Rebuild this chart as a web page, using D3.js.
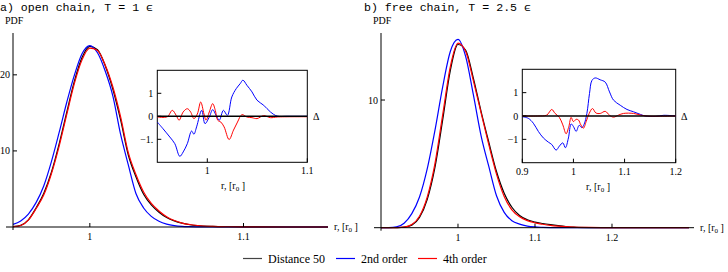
<!DOCTYPE html>
<html lang="en">
<head>
<meta charset="UTF-8">
<title>PDF comparison</title>
<script src="https://d3js.org/d3.v7.min.js"></script>
<style>
  body { margin: 0; background: #fff; }
  svg text { font-family: "Liberation Serif", "DejaVu Serif", serif; }
  .title { font-family: "Liberation Mono", "DejaVu Sans Mono", monospace !important; }
</style>
</head>
<body>
<svg width="728" height="272"></svg>
<script>
// ---- panel a) open chain, T = 1 eps ----
const aR = [0.95, 0.955, 0.96, 0.965, 0.97, 0.975, 0.98, 0.985, 0.99, 0.995, 1.0, 1.005, 1.01, 1.015, 1.02, 1.025, 1.03, 1.035, 1.04, 1.045, 1.05, 1.055, 1.06, 1.065, 1.07, 1.08, 1.09, 1.1, 1.155]
const aBlack = [0.05, 0.22, 0.95, 2.5, 4.4, 7.2, 10.9, 15.1, 19.2, 22.3, 23.75, 23.3, 21.2, 18.1, 14.1, 9.5, 6.6, 4.3, 2.9, 1.95, 1.25, 0.8, 0.5, 0.3, 0.18, 0.07, 0.03, 0.01, 0]
const aBlue = [0.35, 0.8, 1.7, 3.2, 5.4, 8.6, 12.4, 16.4, 20.0, 22.8, 23.85, 22.9, 20.5, 17.2, 12.2, 8.2, 4.4, 2.5, 1.4, 0.75, 0.38, 0.18, 0.08, 0.04, 0.02, 0, 0, 0, 0]
const aRed = [0.05, 0.2, 0.9, 2.4, 4.2, 7.0, 10.6, 14.8, 18.9, 22.0, 23.5, 23.2, 21.3, 18.4, 14.5, 9.8, 6.9, 4.6, 3.1, 2.1, 1.35, 0.85, 0.52, 0.33, 0.2, 0.08, 0.03, 0.01, 0]

// inset a): difference to Distance 50
const aDBlueR = [0.95, 0.9557, 0.9625, 0.9675, 0.9725, 0.9759, 0.98, 0.9843, 0.9866, 0.9893, 0.9944, 0.9977, 1.002, 1.0054, 1.0088, 1.012, 1.0161, 1.0201, 1.0245, 1.0289, 1.0329, 1.0356, 1.0396, 1.0447, 1.0497, 1.0564, 1.0631, 1.0698, 1.08, 1.1]
const aDBlue = [-0.25, -0.54, -0.9, -1.19, -1.74, -1.55, -1.19, -0.64, -0.78, -0.46, 0.26, -0.32, -0.03, 0.29, 0.04, -0.17, 0.26, 0.04, 0.84, 1.2, 1.42, 1.57, 1.35, 1.06, 0.7, 0.48, 0.19, 0.01, 0, 0]
const aDRedR = [0.95, 0.96, 0.965, 0.969, 0.9718, 0.9759, 0.98, 0.9833, 0.9866, 0.99, 0.9934, 0.9967, 0.9987, 1.002, 1.0054, 1.008, 1.0104, 1.0135, 1.0168, 1.0218, 1.0262, 1.0302, 1.0346, 1.0396, 1.0447, 1.0497, 1.0564, 1.0631, 1.07, 1.1]
const aDRed = [-0.03, -0.02, 0.26, 0.03, -0.17, 0.19, 0.33, 0.19, -0.1, 0.1, 0.62, 0.1, -0.17, 0.19, 0.55, 0.26, -0.17, -0.25, -0.46, -1.01, -0.6, -0.25, 0.07, -0.03, -0.06, -0.1, 0.03, -0.06, -0.03, -0.02]

// ---- panel b) free chain, T = 2.5 eps ----
const bR = [0.9, 0.91, 0.92, 0.93, 0.94, 0.95, 0.96, 0.97, 0.98, 0.99, 1.0, 1.01, 1.02, 1.03, 1.04, 1.05, 1.06, 1.07, 1.08, 1.09, 1.1, 1.11, 1.12, 1.13, 1.14, 1.15, 1.17, 1.2, 1.3]
const bBlack = [0, 0, 0.01, 0.04, 0.2, 0.8, 2.2, 4.7, 8.4, 12.3, 14.35, 13.9, 11.7, 9.1, 6.7, 4.4, 2.7, 1.6, 0.95, 0.62, 0.44, 0.33, 0.24, 0.16, 0.09, 0.04, 0.01, 0, 0]
const bBlue = [0, 0.01, 0.06, 0.35, 1.1, 2.4, 4.6, 7.6, 11.0, 13.8, 14.75, 13.4, 10.4, 7.2, 4.8, 2.5, 1.2, 0.55, 0.28, 0.13, 0.06, 0.03, 0.01, 0, 0, 0, 0, 0, 0]
const bRed = [0, 0, 0.01, 0.05, 0.25, 0.9, 2.4, 5.0, 8.8, 12.6, 14.45, 13.8, 11.5, 9.0, 6.5, 4.2, 2.45, 1.4, 0.85, 0.55, 0.38, 0.27, 0.18, 0.12, 0.08, 0.05, 0.02, 0, 0]

// inset b)
const bDBlueR = [0.9, 0.9118, 0.9216, 0.9314, 0.9412, 0.951, 0.9576, 0.9661, 0.9725, 0.9792, 0.9843, 0.9902, 0.9955, 1.0, 1.0053, 1.0112, 1.0165, 1.021, 1.0263, 1.0314, 1.0361, 1.0425, 1.0524, 1.0622, 1.0706, 1.0784, 1.0916, 1.1047, 1.1176, 1.1308, 1.1406, 1.16, 1.1765, 1.2]
const bDBlue = [-0.03, -0.1, -0.31, -0.66, -0.94, -1.12, -1.22, -1.46, -1.29, -1.15, -1.36, -0.94, -0.34, -0.45, -0.66, -0.4, -0.5, -0.35, 0.11, 0.96, 1.52, 1.63, 1.55, 1.45, 1.03, 0.68, 0.46, 0.28, 0.18, 0.07, 0, -0.02, 0.03, 0]
const bDRedR = [0.9, 0.93, 0.9478, 0.9576, 0.9641, 0.9725, 0.9792, 0.9857, 0.991, 0.9955, 1.0, 1.0053, 1.0098, 1.0145, 1.0196, 1.0249, 1.0308, 1.0373, 1.0439, 1.0524, 1.0622, 1.0706, 1.0784, 1.0882, 1.098, 1.1176, 1.1308, 1.1438, 1.17, 1.2]
const bDRed = [0, 0, 0.04, 0.28, 0.11, -0.06, -0.38, -0.76, -0.45, -0.06, -0.24, -0.14, -0.17, -0.38, -0.52, -0.24, 0.11, 0.32, 0.13, 0.11, 0.2, 0.03, -0.05, 0.04, 0.11, 0.11, 0.04, 0, -0.01, 0]

const legendNames = ['Distance 50', '2nd order', '4th order']
const colors = ['#000000', '#0000ff', '#ff0000']

const svg = d3.select('svg')

function zip(xs, ys) { return xs.map((x, i) => [x, ys[i]]) }

function drawMain(p) {
  const g = svg.append('g')
  const x = d3.scaleLinear().domain(p.xDomain).range(p.xRange)
  const y = d3.scaleLinear().domain(p.yDomain).range(p.yRange)
  const line = d3.line().x(d => x(d[0])).y(d => y(d[1])).curve(d3.curveMonotoneX)

  // title and PDF label
  svg.append('text').attr('class', 'title').attr('x', p.titleX).attr('y', 11)
    .attr('font-size', 11.6).text(p.title)
  g.append('text').attr('x', p.xRange[0] - 8).attr('y', 24).attr('font-size', 10).text('PDF')

  // curves
  p.series.forEach((s, i) => {
    g.append('path').datum(zip(p.r, s)).attr('d', line)
      .attr('fill', 'none').attr('stroke', colors[i]).attr('stroke-width', 1.2)
  })

  // axes
  g.append('line').attr('x1', p.xRange[0] - 7).attr('x2', p.xRange[1])
    .attr('y1', y(0)).attr('y2', y(0)).attr('stroke', '#000').attr('stroke-width', 1)
  g.append('line').attr('x1', p.xRange[0]).attr('x2', p.xRange[0])
    .attr('y1', p.yRange[1]).attr('y2', y(0) + 3).attr('stroke', '#000').attr('stroke-width', 1)

  p.xTicks.forEach(t => {
    g.append('line').attr('x1', x(t)).attr('x2', x(t)).attr('y1', y(0)).attr('y2', y(0) - 4)
      .attr('stroke', '#000')
    g.append('text').attr('x', x(t)).attr('y', y(0) + 13).attr('text-anchor', 'middle')
      .attr('font-size', 10).text(t === 1 ? '1' : String(t))
  })
  p.yTicks.forEach(t => {
    g.append('line').attr('x1', p.xRange[0]).attr('x2', p.xRange[0] + 4).attr('y1', y(t)).attr('y2', y(t))
      .attr('stroke', '#000')
    g.append('text').attr('x', p.xRange[0] - 3).attr('y', y(t) + 3.5).attr('text-anchor', 'end')
      .attr('font-size', 10).text(t)
  })

  const lab = g.append('text').attr('x', p.xRange[1] + 6).attr('y', y(0) + 3).attr('font-size', 10)
  lab.append('tspan').text('r, [r')
  lab.append('tspan').attr('font-size', 7).attr('dy', 2).text('0')
  lab.append('tspan').attr('dy', -2).text(' ]')
}

function drawInset(p) {
  const g = svg.append('g')
  const x = d3.scaleLinear().domain(p.xDomain).range(p.xRange)
  const y = d3.scaleLinear().domain([-2, 2]).range(p.yRange)
  const line = d3.line().x(d => x(d[0])).y(d => y(d[1])).curve(d3.curveCatmullRom.alpha(0.5))

  g.append('rect').attr('x', p.xRange[0]).attr('y', p.yRange[1])
    .attr('width', p.xRange[1] - p.xRange[0]).attr('height', p.yRange[0] - p.yRange[1])
    .attr('fill', '#fff').attr('stroke', '#000').attr('stroke-width', 1)

  const clipId = 'clip' + p.id
  svg.append('clipPath').attr('id', clipId).append('rect')
    .attr('x', p.xRange[0]).attr('y', p.yRange[1])
    .attr('width', p.xRange[1] - p.xRange[0]).attr('height', p.yRange[0] - p.yRange[1])

  const cg = g.append('g').attr('clip-path', 'url(#' + clipId + ')')
  cg.append('path').datum(zip(p.blueR, p.blue)).attr('d', line)
    .attr('fill', 'none').attr('stroke', colors[1]).attr('stroke-width', 1)
  cg.append('path').datum(zip(p.redR, p.red)).attr('d', line)
    .attr('fill', 'none').attr('stroke', colors[2]).attr('stroke-width', 1)
  cg.append('line').attr('x1', p.xRange[0]).attr('x2', p.xRange[1]).attr('y1', y(0)).attr('y2', y(0))
    .attr('stroke', '#000').attr('stroke-width', 1.4)

  p.xTicks.forEach(t => {
    g.append('line').attr('x1', x(t)).attr('x2', x(t)).attr('y1', p.yRange[0]).attr('y2', p.yRange[0] - 4)
      .attr('stroke', '#000')
    g.append('text').attr('x', x(t)).attr('y', p.yRange[0] + 12).attr('text-anchor', 'middle')
      .attr('font-size', 10).text(p.xFmt(t))
  })
  p.yTicks.forEach(t => {
    g.append('line').attr('x1', p.xRange[0]).attr('x2', p.xRange[0] + 4).attr('y1', y(t)).attr('y2', y(t))
      .attr('stroke', '#000')
    g.append('text').attr('x', p.xRange[0] - 4).attr('y', y(t) + 3.5).attr('text-anchor', 'end')
      .attr('font-size', 10).text(p.yFmt(t))
  })

  g.append('text').attr('x', p.deltaX).attr('y', y(0) + 4).attr('font-size', 10).text('Δ')

  const lab = g.append('text').attr('x', p.labX).attr('y', p.yRange[0] + 27)
    .attr('text-anchor', 'middle').attr('font-size', 10)
  lab.append('tspan').text('r, [r')
  lab.append('tspan').attr('font-size', 7).attr('dy', 2).text('0')
  lab.append('tspan').attr('dy', -2).text(' ]')
}

drawMain({
  title: 'a) open chain, T = 1 ϵ', titleX: 0,
  r: aR, series: [aBlack, aBlue, aRed],
  xDomain: [0.95, 1.155], xRange: [13, 328],
  yDomain: [0, 25.5], yRange: [227, 33],
  xTicks: [1, 1.1], yTicks: [10, 20]
})
drawMain({
  title: 'b) free chain, T = 2.5 ϵ', titleX: 364,
  r: bR, series: [bBlack, bBlue, bRed],
  xDomain: [0.9, 1.3065], xRange: [381, 694],
  yDomain: [0, 15.25], yRange: [227.7, 33],
  xTicks: [1, 1.1, 1.2], yTicks: [10]
})

drawInset({
  id: 'a', xDomain: [0.95, 1.1], xRange: [157.3, 307.3], yRange: [162.3, 70.3],
  blueR: aDBlueR, blue: aDBlue, redR: aDRedR, red: aDRed,
  xTicks: [1, 1.1], xFmt: t => String(t),
  yTicks: [-1, 0, 1], yFmt: t => t < 0 ? '\u22121.' : String(t),
  deltaX: 313, labX: 233
})
drawInset({
  id: 'b', xDomain: [0.9, 1.2], xRange: [522.3, 675.7], yRange: [162.7, 69.3],
  blueR: bDBlueR, blue: bDBlue, redR: bDRedR, red: bDRed,
  xTicks: [0.9, 1, 1.1, 1.2], xFmt: t => String(t),
  yTicks: [-1, 0, 1], yFmt: t => t < 0 ? '\u22121' : String(t),
  deltaX: 681, labX: 598
})

// legend
const legX = [243, 336, 418]
const lg = svg.append('g')
legendNames.forEach((name, i) => {
  lg.append('line').attr('x1', legX[i]).attr('x2', legX[i] + 19).attr('y1', 258.5).attr('y2', 258.5)
    .attr('stroke', i === 0 ? '#444' : colors[i]).attr('stroke-width', 1.2)
  lg.append('text').attr('x', legX[i] + 25).attr('y', 262.5).attr('font-size', 12).text(name)
})
</script>
</body>
</html>
